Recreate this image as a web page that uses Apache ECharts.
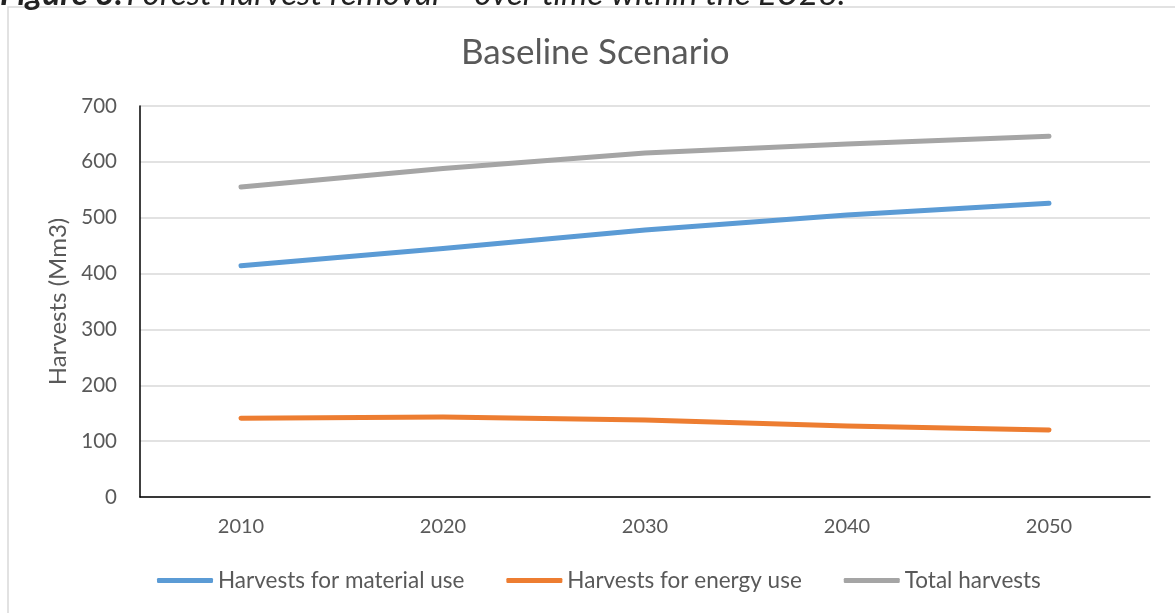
<!DOCTYPE html>
<html><head><meta charset="utf-8">
<script src="https://cdn.jsdelivr.net/npm/echarts@6/dist/echarts.min.js"></script>
<style>html,body{margin:0;padding:0;background:#fff}#c{width:1175px;height:613px}</style>
</head><body><div id="c"></div>
<script>
const categories = ['2010', '2020', '2030', '2040', '2050'];
const materialUse = [414, 445, 478, 505, 526];
const energyUse = [141, 143, 138, 127, 120];
const totalHarvests = [555, 588, 616, 632, 646];
const seriesNames = ['Harvests for material use', 'Harvests for energy use', 'Total harvests'];
const colors = ['#5B9BD5', '#ED7D31', '#A5A5A5'];
const FONT = 'Lato';
const TXT = '#595959';

const chart = echarts.init(document.getElementById('c'));
function mk(name, data, color) {
  return { name, type: 'line', data, symbol: 'none', smooth: false,
    lineStyle: { color, width: 5, cap: 'round', join: 'round' }, itemStyle: { color } };
}
chart.setOption({
  animation: false,
  color: colors,
  textStyle: { fontFamily: FONT, color: TXT },
  title: { text: 'Baseline Scenario', left: 461, top: 35, padding: 0,
    textStyle: { fontFamily: FONT, fontSize: 35, fontWeight: 'normal', color: TXT } },
  graphic: [
    { type: 'rect', shape: { x: 8, y: 7, width: 1300, height: 800 },
      style: { fill: 'none', stroke: '#d9d9d9', lineWidth: 1.5 }, silent: true },
    { type: 'text', x: 0, y: 11,
      style: { text: '{b|Figure 3:} {i|Forest harvest removal – over time within the EU28.}',
        verticalAlign: 'bottom',
        rich: { b: { fontFamily: FONT, fontSize: 33.3, fontWeight: 'bold', fontStyle: 'italic', fill: '#222' },
                i: { fontFamily: FONT, fontSize: 33.3, fontStyle: 'italic', fill: '#222' } } } }
  ],
  grid: { left: 140, right: 25, top: 106, bottom: 116, containLabel: false },
  legend: { left: 157, top: 569, padding: 0, itemWidth: 56, itemHeight: 5, itemGap: 42, icon: 'roundRect',
    data: seriesNames, textStyle: { fontFamily: FONT, fontSize: 22.5, color: TXT } },
  xAxis: { type: 'category', data: categories, boundaryGap: true,
    axisLine: { lineStyle: { color: '#000', width: 1.5 } }, axisTick: { show: false },
    axisLabel: { fontFamily: FONT, fontSize: 20, color: TXT, margin: 20 } },
  yAxis: { type: 'value', min: 0, max: 700, interval: 100,
    name: 'Harvests (Mm3)', nameLocation: 'middle', nameGap: 70,
    nameTextStyle: { fontFamily: FONT, fontSize: 24, color: TXT },
    axisLine: { show: true, lineStyle: { color: '#000', width: 1.5 } }, axisTick: { show: false },
    splitLine: { lineStyle: { color: '#d9d9d9', width: 1.5 } },
    axisLabel: { fontFamily: FONT, fontSize: 20.5, color: TXT, margin: 23 } },
  series: [mk(seriesNames[0], materialUse, colors[0]), mk(seriesNames[1], energyUse, colors[1]), mk(seriesNames[2], totalHarvests, colors[2])]
});
</script></body></html>
